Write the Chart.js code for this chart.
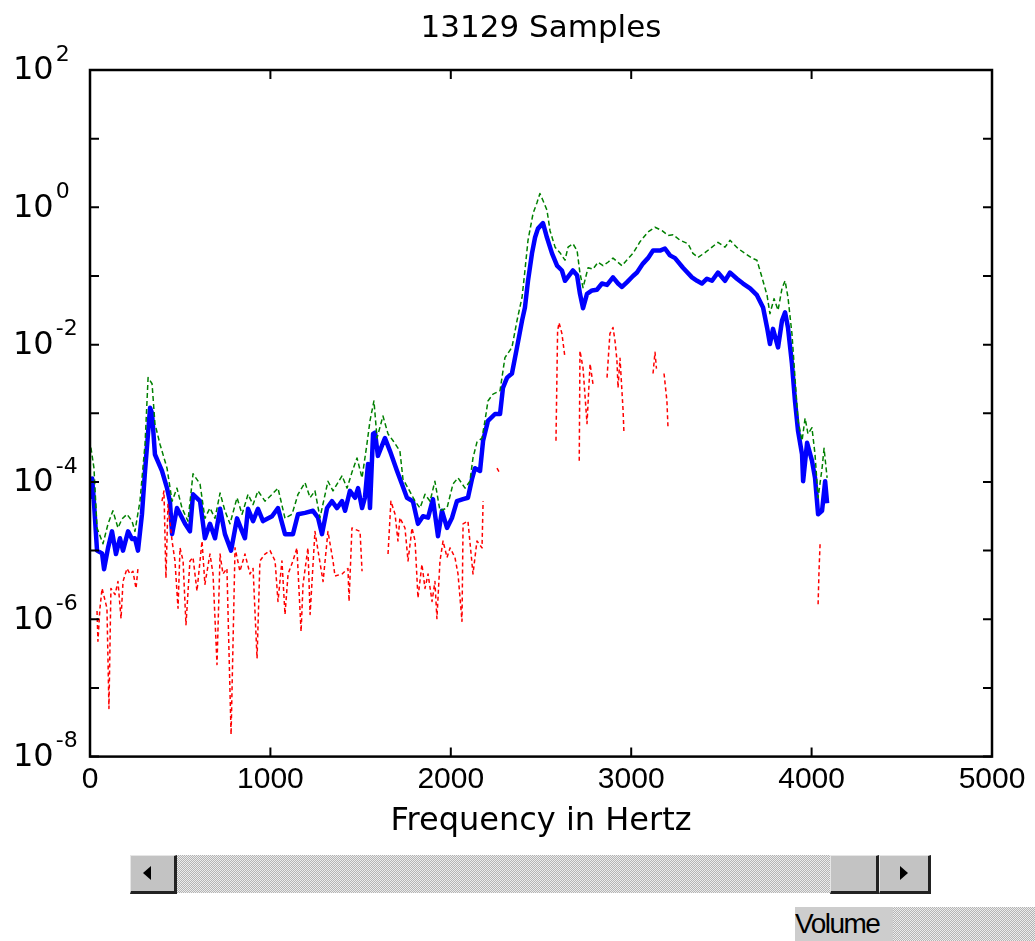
<!DOCTYPE html>
<html>
<head>
<meta charset="utf-8">
<script src="https://cdn.jsdelivr.net/npm/chart.js@4"></script>
<style>
  html, body { margin: 0; padding: 0; background: #fff; }
  #wrap { position: absolute; left: 0; top: 0; width: 1035px; height: 941px; }
  .dither { background: repeating-conic-gradient(#b4b4b4 0 25%, #ececec 0 50%) 0 0/2px 2px; }
  .btn { position: absolute; box-sizing: border-box; background: #c3c3c3;
         border-top: 1px solid #e6e6e6; border-left: 1px solid #e6e6e6;
         border-right: 3px solid #222; border-bottom: 3px solid #222; }
  .tri { position: absolute; width: 0; height: 0; border-top: 7px solid transparent; border-bottom: 7px solid transparent; }
</style>
</head>
<body>
<div id="wrap"><canvas id="spec"></canvas></div>

<div class="dither" style="position:absolute;left:177px;top:855px;width:654px;height:38px;"></div>
<div class="btn" style="left:130px;top:855px;width:47px;height:39px;">
  <div class="tri" style="left:12px;top:10px;border-right:8px solid #000;"></div>
</div>
<div class="btn" style="left:830px;top:855px;width:49px;height:39px;"></div>
<div class="btn" style="left:879px;top:855px;width:52px;height:39px;">
  <div class="tri" style="left:20px;top:10px;border-left:8px solid #000;"></div>
</div>

<div class="dither" style="position:absolute;left:795px;top:907px;width:240px;height:34px;"></div>
<div style="position:absolute;left:795px;top:907px;width:98px;height:34px;background:#cdcdcd;
            font:28px 'Liberation Sans';line-height:34px;color:#000;letter-spacing:-1.5px;">Volume</div>

<script>
// frequencies (Hz) and log10 of power for each curve
const blueHz = [5,12,22,39,67,78,100,122,144,166,183,211,233,249,266,288,305,333,344,360,399,427,443,455,482,527,554,571,610,637,665,693,721,748,782,815,843,859,876,904,931,959,1009,1042,1081,1125,1153,1192,1236,1264,1286,1314,1341,1369,1397,1414,1441,1469,1486,1508,1524,1541,1552,1569,1580,1596,1635,1663,1702,1729,1757,1790,1818,1846,1874,1901,1929,1951,1979,2007,2034,2068,2095,2118,2134,2162,2179,2206,2245,2273,2289,2312,2339,2367,2395,2411,2428,2450,2467,2483,2511,2533,2561,2589,2616,2633,2677,2700,2716,2733,2755,2783,2810,2838,2866,2899,2927,2949,2977,3010,3032,3065,3093,3121,3160,3187,3215,3243,3287,3337,3365,3392,3420,3448,3481,3520,3548,3586,3620,3659,3697,3731,3753,3769,3786,3814,3836,3853,3869,3891,3908,3925,3947,3953,3975,4002,4019,4036,4058,4075,4086];
const blueLog = [-4.25,-3.95,-4.3,-5.0,-5.04,-5.27,-4.96,-4.72,-5.05,-4.82,-5.0,-4.72,-4.83,-4.82,-5.0,-4.47,-3.84,-2.92,-3.0,-3.6,-3.84,-4.09,-4.28,-4.76,-4.38,-4.61,-4.72,-4.18,-4.28,-4.82,-4.61,-4.82,-4.39,-4.76,-5.0,-4.53,-4.72,-4.82,-4.39,-4.57,-4.39,-4.57,-4.5,-4.38,-4.76,-4.76,-4.47,-4.45,-4.42,-4.52,-4.76,-4.38,-4.28,-4.38,-4.28,-4.42,-4.13,-4.23,-4.09,-4.38,-4.23,-3.74,-4.38,-3.3,-3.28,-3.62,-3.36,-3.55,-3.84,-4.03,-4.23,-4.28,-4.61,-4.5,-4.52,-4.25,-4.79,-4.42,-4.67,-4.52,-4.28,-4.25,-4.23,-3.95,-3.8,-3.84,-3.4,-3.11,-3.01,-3.01,-2.63,-2.48,-2.42,-2.04,-1.65,-1.46,-1.07,-0.67,-0.44,-0.31,-0.23,-0.44,-0.67,-0.85,-0.92,-1.07,-0.92,-0.99,-1.26,-1.47,-1.26,-1.21,-1.2,-1.11,-1.13,-1.02,-1.11,-1.16,-1.09,-1.0,-0.95,-0.82,-0.74,-0.63,-0.63,-0.6,-0.7,-0.74,-0.88,-1.02,-1.07,-1.11,-1.04,-1.07,-0.95,-1.07,-0.95,-1.04,-1.11,-1.18,-1.28,-1.46,-1.75,-1.99,-1.77,-2.04,-1.65,-1.53,-1.75,-2.28,-2.82,-3.26,-3.6,-3.99,-3.43,-3.69,-3.94,-4.47,-4.42,-3.99,-4.31];

const greenHz = [5,11,22,39,72,100,127,155,177,205,233,249,277,305,322,344,360,388,427,455,482,510,543,571,610,637,665,693,721,748,776,815,843,876,904,931,970,1009,1042,1081,1120,1153,1192,1220,1247,1275,1319,1347,1397,1425,1452,1480,1508,1535,1552,1574,1591,1624,1652,1680,1718,1735,1763,1802,1829,1857,1885,1912,1940,1979,2012,2040,2079,2106,2123,2145,2173,2190,2206,2234,2273,2300,2339,2367,2395,2411,2428,2456,2478,2494,2511,2533,2550,2578,2605,2633,2650,2677,2700,2716,2733,2761,2788,2816,2844,2871,2899,2949,2982,3010,3049,3093,3132,3171,3204,3232,3271,3315,3342,3370,3409,3448,3481,3520,3548,3592,3631,3670,3697,3725,3753,3769,3792,3814,3836,3853,3869,3891,3908,3925,3947,3964,3980,4002,4019,4036,4058,4069,4086];
const greenLog = [-3.5,-3.6,-3.8,-4.67,-4.9,-4.61,-4.42,-4.67,-4.54,-4.47,-4.57,-4.72,-4.28,-3.45,-2.48,-2.57,-3.15,-3.45,-3.8,-4.28,-4.09,-4.38,-4.57,-3.88,-4.03,-4.53,-4.38,-4.53,-4.16,-4.42,-4.61,-4.23,-4.47,-4.18,-4.33,-4.13,-4.28,-4.18,-4.09,-4.53,-4.47,-4.18,-4.01,-4.23,-4.13,-4.52,-3.99,-4.13,-3.91,-4.09,-3.86,-3.65,-3.94,-3.45,-3.11,-2.82,-3.36,-3.04,-3.3,-3.4,-3.55,-3.96,-4.09,-4.28,-4.38,-4.18,-4.28,-3.99,-4.42,-4.38,-4.03,-3.94,-4.09,-3.99,-3.65,-3.42,-3.36,-3.1,-2.82,-2.72,-2.67,-2.19,-2.04,-1.65,-1.31,-0.92,-0.48,-0.09,0.07,0.2,0.1,-0.04,-0.34,-0.58,-0.66,-0.77,-0.58,-0.53,-0.63,-0.96,-1.17,-0.88,-0.9,-0.8,-0.85,-0.8,-0.74,-0.85,-0.75,-0.67,-0.5,-0.36,-0.29,-0.34,-0.41,-0.4,-0.48,-0.53,-0.67,-0.73,-0.66,-0.58,-0.51,-0.58,-0.48,-0.6,-0.67,-0.74,-0.77,-1.02,-1.28,-1.55,-1.33,-1.5,-1.18,-1.07,-1.31,-1.84,-2.48,-3.11,-3.4,-3.07,-3.3,-3.21,-3.6,-4.23,-3.8,-3.51,-3.94];

// null marks a break in the lower curve
const redHz = [39,44,55,67,94,105,116,139,155,172,183,205,222,238,255,266,300,399,410,421,432,455,471,488,499,516,532,554,571,593,621,637,665,682,704,721,737,759,782,804,831,859,887,904,926,942,970,998,1026,1042,1064,1081,1098,1125,1147,1170,1181,1208,1220,1247,1264,1292,1319,1347,1358,1397,1430,1436,1452,1497,1508,1580,1652,1668,1691,1707,1718,1746,1763,1785,1802,1818,1840,1857,1874,1896,1912,1923,1940,1957,1979,1996,2023,2040,2062,2068,2095,2123,2145,2173,2179,2220,2256,2273,2420,2583,2592,2600,2616,2633,2670,2712,2716,2733,2755,2772,2788,2830,2866,2882,2899,2910,2921,2927,2938,2955,2960,3050,3121,3132,3140,3160,3182,3198,3204,3500,4036,4041,4047];
const redLog = [-5.88,-6.32,-5.84,-5.55,-5.84,-7.3,-5.55,-5.64,-5.45,-5.99,-5.45,-5.26,-5.34,-5.3,-5.55,-5.26,null,-4.28,-4.13,-5.4,-4.33,-4.86,-5.15,-5.84,-4.96,-5.15,-6.08,-5.15,-5.1,-5.59,-4.86,-5.49,-5.05,-5.34,-6.66,-5.05,-5.34,-5.26,-7.68,-4.96,-5.3,-5.05,-5.34,-5.26,-6.57,-5.15,-5.05,-5.0,-5.15,-5.74,-5.15,-5.93,-5.34,-5.15,-4.96,-6.18,-5.49,-4.96,-5.93,-4.72,-5.0,-5.45,-4.72,-5.15,-5.37,-5.34,-5.26,-5.74,-4.67,-4.72,-5.3,null,-5.05,-4.28,-4.47,-4.86,-4.52,-4.67,-5.15,-4.67,-4.86,-5.69,-5.2,-5.55,-5.34,-5.74,-5.45,-5.99,-5.15,-4.86,-5.1,-4.96,-5.1,-5.34,-6.03,-4.61,-4.57,-5.34,-4.86,-4.96,-4.28,null,-3.8,-3.88,null,-3.4,-1.8,-1.68,-1.84,-2.19,null,-3.69,-2.09,-2.34,-3.15,-2.28,-2.57,null,-2.48,-1.84,-1.75,-1.94,-2.23,-2.63,-2.2,-2.96,-3.3,null,-2.42,-2.11,-2.35,null,-2.42,-2.82,-3.21,null,-5.78,-5.3,-4.9];

const xTicks = [0, 1000, 2000, 3000, 4000, 5000];
const yTickExps = [-8, -7, -6, -5, -4, -3, -2, -1, 0, 1, 2];
const yLabelExps = [-8, -6, -4, -2, 0, 2];

const pts = (hz, lg) => hz.map((f, i) => ({ x: f, y: lg[i] === null ? null : Math.pow(10, lg[i]) }));

// box, inward ticks and 10^n labels like the original plot
const frame = {
  id: 'frame',
  afterDraw(chart) {
    const { ctx, chartArea: a, scales: { x, y } } = chart;
    ctx.save();
    ctx.strokeStyle = '#000';
    ctx.lineWidth = 2;
    ctx.beginPath();
    xTicks.forEach(v => {
      const px = x.getPixelForValue(v);
      ctx.moveTo(px, a.bottom); ctx.lineTo(px, a.bottom - 9);
      ctx.moveTo(px, a.top); ctx.lineTo(px, a.top + 9);
    });
    yTickExps.forEach(e => {
      const py = y.getPixelForValue(Math.pow(10, e));
      ctx.moveTo(a.left, py); ctx.lineTo(a.left + 9, py);
      ctx.moveTo(a.right, py); ctx.lineTo(a.right - 9, py);
    });
    ctx.stroke();
    ctx.lineWidth = 2.5;
    ctx.strokeRect(a.left, a.top, a.right - a.left, a.bottom - a.top);

    ctx.fillStyle = '#000';
    ctx.textAlign = 'left';
    ctx.textBaseline = 'middle';
    yLabelExps.forEach(e => {
      const py = y.getPixelForValue(Math.pow(10, e));
      ctx.font = '32px "DejaVu Sans"';
      ctx.fillText('10', 13, py + 1);
      const w = ctx.measureText('10').width;
      ctx.font = '22px "DejaVu Sans"';
      ctx.fillText(String(e), 13 + w + 2, py - 15);
    });
    ctx.restore();
  }
};

new Chart(document.getElementById('spec'), {
  type: 'line',
  data: {
    datasets: [
      { data: pts(greenHz, greenLog), borderColor: '#008000', borderWidth: 1.5, borderDash: [5, 3], order: 0 },
      { data: pts(redHz, redLog), borderColor: '#ff0000', borderWidth: 1.5, borderDash: [4, 3], order: 1 },
      { data: pts(blueHz, blueLog), borderColor: '#0000ff', borderWidth: 4.5, order: 2 }
    ]
  },
  options: {
    responsive: true,
    maintainAspectRatio: false,
    animation: false,
    spanGaps: false,
    elements: { point: { radius: 0 }, line: { tension: 0, borderJoinStyle: 'round' } },
    layout: { padding: { left: 0, right: 43, top: 0, bottom: 96 } },
    plugins: {
      legend: { display: false },
      tooltip: { enabled: false },
      title: {
        display: true, text: '13129 Samples', fullSize: false, color: '#000',
        font: { family: 'DejaVu Sans', size: 31, weight: 'normal' },
        padding: { top: 10, bottom: 22.8 }
      }
    },
    scales: {
      x: {
        type: 'linear', min: 0, max: 5000,
        grid: { display: false, drawTicks: false },
        border: { display: false },
        ticks: { stepSize: 1000, maxRotation: 0, padding: 5, color: '#000',
                 font: { family: 'Liberation Sans', size: 30 },
                 callback: v => String(v) },
        title: { display: true, text: 'Frequency in Hertz', color: '#000',
                 font: { family: 'DejaVu Sans', size: 32 }, padding: { top: 0, bottom: 4 } }
      },
      y: {
        type: 'logarithmic', min: 1e-8, max: 1e2,
        grid: { display: false, drawTicks: false },
        border: { display: false },
        ticks: { display: false },
        afterFit: s => { s.width = 90; }
      }
    }
  },
  plugins: [frame]
});
</script>
</body>
</html>
